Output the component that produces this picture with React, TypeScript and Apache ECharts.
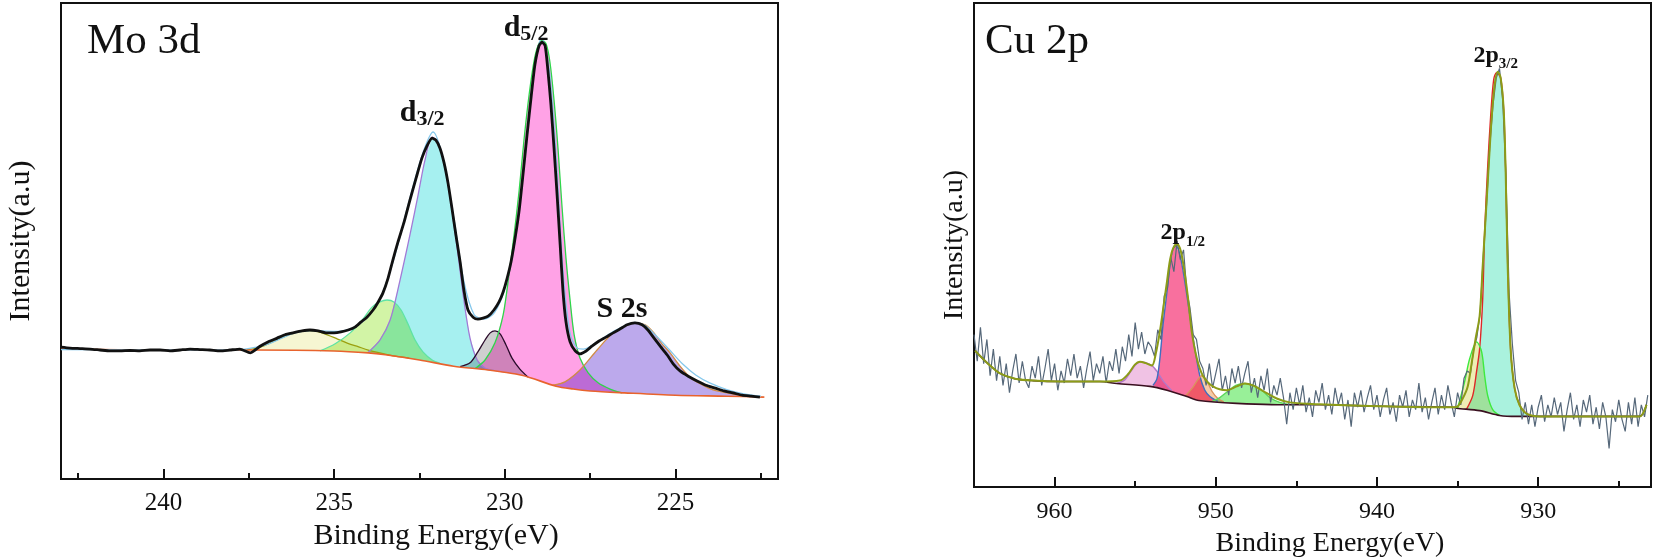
import React, { useEffect, useRef } from 'react';
import * as echarts from 'echarts';

// ---------------- Mo 3d panel (left) ----------------
const MO_X_MIN = 222;
const MO_X_MAX = 243;
const MO_MAJOR_TICKS = [225, 230, 235, 240];
const MO_MINOR_TICKS = [222.5, 227.5, 232.5, 237.5, 242.5];

const MO_RAW = [
  [243.0, 27.7], [242.74, 27.5], [242.44, 27.4], [242.15, 27.3], [241.86, 27.1], [241.56, 26.9], [241.27, 26.9], [240.98, 27.0],
  [240.69, 26.9], [240.39, 27.1], [240.1, 27.1], [239.81, 26.9], [239.51, 27.1], [239.22, 27.3], [238.93, 27.2], [238.64, 27.1],
  [238.34, 26.9], [238.05, 27.1], [237.76, 27.3], [237.46, 26.5], [237.17, 27.9], [236.94, 28.8], [236.67, 29.6], [236.44, 30.3],
  [236.2, 30.7], [235.94, 31.1], [235.71, 31.3], [235.47, 31.1], [235.24, 30.7], [235.0, 30.7], [234.8, 30.9], [234.59, 31.3],
  [234.39, 31.9], [234.21, 33.0], [234.04, 34.0], [233.86, 35.5], [233.71, 37.2], [233.57, 39.1], [233.42, 42.2], [233.28, 46.0],
  [233.13, 49.8], [232.95, 54.0], [232.78, 58.6], [232.6, 63.2], [232.43, 67.4], [232.28, 70.0], [232.13, 71.6], [232.02, 71.2],
  [231.9, 69.5], [231.78, 66.4], [231.66, 62.0], [231.55, 56.9], [231.43, 51.1], [231.31, 45.6], [231.2, 39.7], [231.08, 35.5],
  [230.93, 34.0], [230.79, 33.6], [230.64, 33.8], [230.49, 34.2], [230.32, 35.5], [230.17, 37.2], [230.05, 39.3], [229.94, 42.0],
  [229.82, 45.6], [229.7, 50.6], [229.58, 56.5], [229.47, 63.9], [229.35, 72.3], [229.23, 80.3], [229.12, 87.0], [229.0, 91.0],
  [228.91, 91.8], [228.82, 91.0], [228.74, 85.9], [228.65, 78.6], [228.56, 69.5], [228.47, 59.7], [228.38, 49.2], [228.3, 39.7],
  [228.21, 33.0], [228.09, 28.8], [227.94, 26.9], [227.8, 26.3], [227.62, 26.9], [227.45, 27.9], [227.24, 29.0], [227.04, 29.8],
  [226.83, 30.7], [226.63, 31.5], [226.42, 32.4], [226.19, 32.8], [225.98, 32.4], [225.81, 31.3], [225.63, 29.6], [225.45, 27.9],
  [225.25, 26.1], [225.07, 24.2], [224.87, 22.7], [224.63, 21.6], [224.37, 20.6], [224.11, 19.7], [223.84, 19.1], [223.58, 18.5],
  [223.32, 18.1], [223.05, 17.6], [222.79, 17.4], [222.53, 17.2]
];

const MO_ENVELOPE = [
  [243, 27.2], [240, 27.1], [238, 27.1], [237, 28.2], [236.2, 30.6], [235.7, 31.2], [235.0, 31.0], [234.5, 31.6], [234.0, 34.2],
  [233.6, 38.8], [233.2, 47.5], [232.8, 58.5], [232.4, 68.5], [232.1, 72.9], [231.8, 67.0], [231.5, 55.0], [231.2, 41.5],
  [230.9, 34.5], [230.6, 33.6], [230.3, 35.0], [230.0, 40.0], [229.7, 50.0], [229.4, 68.0], [229.15, 85.5], [228.92, 92.6],
  [228.7, 86.0], [228.5, 68.0], [228.3, 44.0], [228.1, 31.0], [227.9, 27.6], [227.7, 27.3], [227.4, 28.3], [227.0, 30.2],
  [226.6, 31.8], [226.2, 32.9], [225.9, 32.3], [225.6, 30.3], [225.2, 27.3], [224.8, 24.2], [224.4, 21.8], [224.0, 20.2],
  [223.5, 18.8], [223.0, 17.9], [222.5, 17.4]
];

const MO_BACKGROUND = [
  [243.0, 27.3], [240.0, 27.1], [237.5, 27.1], [235.0, 26.9], [234.0, 26.5], [233.5, 26.1], [232.5, 25.0], [231.5, 23.7],
  [230.5, 22.9], [229.5, 21.8], [228.5, 19.5], [228.0, 18.9], [227.5, 18.5], [226.5, 18.1], [225.0, 17.6], [223.5, 17.4], [222.4, 17.2]
];

const MO_PEAK_235_8 = [
  [237.6, 27.1], [237.2, 27.6], [236.9, 28.5], [236.6, 29.5], [236.3, 30.4], [236.0, 31.0], [235.75, 31.2], [235.5, 31.0],
  [235.2, 30.3], [234.9, 29.4], [234.6, 28.5], [234.3, 27.8], [234.0, 27.1], [233.6, 26.4], [233.2, 25.8], [232.8, 25.4]
];

const MO_PEAK_233_5 = [
  [235.41, 26.9], [234.97, 28.4], [234.53, 30.7], [234.18, 33.4], [233.89, 36.1], [233.66, 37.2], [233.45, 37.6], [233.25, 37.2],
  [233.04, 35.5], [232.84, 32.6], [232.63, 29.2], [232.4, 26.7], [232.13, 25.0], [231.9, 24.3]
];

const MO_D32 = [
  [234.01, 26.6], [233.66, 29.2], [233.36, 33.4], [233.07, 41.8], [232.78, 51.3], [232.54, 59.7], [232.34, 67.0], [232.13, 71.8],
  [231.96, 70.8], [231.75, 65.3], [231.55, 56.5], [231.37, 47.1], [231.2, 37.6], [231.02, 29.6], [230.81, 25.0], [230.58, 23.3], [230.32, 22.8]
];

const MO_PEAK_230_3 = [
  [231.31, 23.6], [231.02, 24.4], [230.79, 26.7], [230.58, 29.2], [230.43, 30.7], [230.29, 31.1], [230.14, 30.5], [229.97, 28.2],
  [229.79, 25.4], [229.56, 23.1], [229.32, 21.4]
];

const MO_D52 = [
  [230.87, 23.2], [230.58, 25.0], [230.29, 28.6], [230.05, 34.5], [229.88, 42.9], [229.73, 51.3], [229.58, 60.7], [229.44, 71.2],
  [229.29, 80.7], [229.15, 87.6], [229.03, 91.0], [228.91, 92.2], [228.79, 91.4], [228.68, 87.6], [228.56, 79.6], [228.44, 69.1],
  [228.33, 57.6], [228.21, 46.4], [228.09, 37.6], [227.97, 30.3], [227.8, 25.4], [227.56, 22.3], [227.27, 20.2], [226.92, 18.9], [226.57, 18.1]
];

const MO_S2S = [
  [228.59, 19.7], [228.24, 20.4], [227.8, 22.9], [227.3, 27.1], [226.83, 30.7], [226.48, 32.1], [226.19, 32.8], [225.89, 32.4],
  [225.66, 30.9], [225.4, 28.4], [225.16, 26.5], [224.87, 23.7], [224.58, 21.4], [224.28, 20.0], [223.9, 18.7], [223.49, 18.1],
  [223.11, 17.6], [222.53, 17.2]
];

// ---------------- Cu 2p panel (right) ----------------
const CU_X_MIN = 923;
const CU_X_MAX = 965;
const CU_MAJOR_TICKS = [930, 940, 950, 960];
const CU_MINOR_TICKS = [925, 935, 945, 955];

const CU_RAW_START = 965.0;
const CU_RAW_STEP = 0.2;
const CU_RAW_VALUES = [
  31.5, 26.0, 33.0, 25.5, 30.5, 23.0, 28.5, 22.0, 27.0,
  21.0, 25.5, 19.5, 24.0, 27.5, 21.5, 26.0, 22.0, 20.5, 25.0, 22.5, 27.0, 21.0, 24.5, 28.5, 22.0, 25.5, 20.0, 24.0, 21.5,
  26.5, 23.0, 27.5, 22.5, 25.0, 20.5, 24.5, 28.0, 22.0, 25.5, 23.5, 27.0, 21.5, 26.0, 24.0, 28.5,
  23.5, 29.0, 26.0, 31.5, 27.0, 34.0, 28.5, 32.0, 27.5, 30.0, 29.0,
  27.0, 32.5, 30.5, 39.5, 41.0, 47.5, 44.5, 50.8, 47.0, 49.0, 40.5, 37.0, 31.5, 30.5, 26.0,
  24.5, 21.0, 25.5, 20.5, 23.5, 26.5, 20.0, 23.0, 19.0, 24.5, 21.5, 25.0, 20.5, 23.5, 26.0, 19.5, 22.5, 18.5, 23.0, 20.0,
  24.5, 17.5, 21.0, 19.0, 22.5,
  18.5, 13.0, 19.5, 16.0, 20.5, 17.0, 21.0, 15.5, 18.5, 14.5, 20.0, 17.5, 21.5, 16.0, 19.0, 15.0, 20.5, 17.0, 19.5, 14.0,
  18.0, 12.5, 19.5, 16.5, 20.0, 15.5, 18.5, 21.0, 16.0, 19.0, 14.5, 18.0, 20.5, 15.0, 17.5, 13.5, 19.0, 16.5, 20.0, 14.5,
  18.0, 16.0, 21.5, 15.5, 18.5, 14.0, 17.5, 20.5, 15.0, 19.0, 16.0, 21.0, 17.5,
  14.5, 19.5, 17.0, 22.5, 24.0, 23.5, 28.5, 31.0, 36.0, 48.0, 58.5, 70.5, 79.0, 84.5, 86.5, 80.0, 64.5, 40.0, 29.5, 22.0,
  19.5, 14.0, 17.5, 13.0,
  17.0, 12.5, 16.5, 19.0, 13.5, 17.0, 14.5, 18.5, 15.0, 17.5, 11.5, 16.0, 19.5, 14.0, 17.0, 12.5, 18.0, 15.5, 19.0, 13.0,
  16.5, 12.0, 17.5, 14.5, 8.0, 16.0, 13.5, 18.0, 14.0, 11.5, 17.5, 13.0, 18.5, 12.5, 17.0, 14.5, 19.0
];

const CU_ENVELOPE = [
  [964.94, 28.2], [964.13, 25.5], [963.39, 23.5], [962.46, 22.4], [961.34, 22.0], [959.67, 21.8], [957.19, 21.8], [955.95, 22.0],
  [955.45, 23.3], [955.02, 25.3], [954.71, 25.9], [954.34, 25.6], [953.96, 25.1], [953.72, 27.6], [953.47, 32.1], [953.22, 37.9],
  [953.03, 42.4], [952.85, 46.7], [952.66, 49.2], [952.41, 50.2], [952.23, 49.4], [952.1, 47.7], [951.92, 44.0], [951.73, 39.3],
  [951.49, 32.1], [951.17, 26.5], [950.8, 23.0], [950.18, 20.8], [949.31, 20.0], [948.7, 20.8], [948.2, 21.4], [947.7, 21.0],
  [947.14, 20.0], [946.22, 18.3], [945.41, 17.5], [943.55, 17.1], [939.83, 16.7], [936.73, 16.5], [935.3, 16.5], [934.99, 16.7],
  [934.68, 18.3], [934.37, 20.8], [934.13, 25.5], [933.88, 30.7], [933.63, 35.4], [933.44, 45.7], [933.19, 59.5], [933.01, 69.8],
  [932.88, 76.5], [932.7, 83.1], [932.51, 85.8], [932.33, 84.6], [932.14, 78.0], [932.02, 65.6], [931.89, 45.7], [931.71, 28.6],
  [931.46, 20.4], [931.15, 16.9], [930.72, 15.2], [929.91, 14.6], [926.19, 14.6], [923.71, 14.6], [923.28, 17.0]
];

const CU_BACKGROUND = [
  [964.94, 28.2], [964.13, 25.5], [963.39, 23.5], [962.46, 22.4], [961.34, 22.0], [959.67, 21.8], [957.19, 21.8], [956.13, 21.4],
  [954.09, 20.8], [953.03, 20.0], [951.79, 18.7], [951.05, 17.9], [948.7, 17.3], [945.72, 17.0], [943.55, 17.0], [939.83, 16.7],
  [935.3, 16.5], [935.06, 16.3], [933.63, 15.8], [932.39, 14.8], [931.34, 14.6], [929.91, 14.6], [926.19, 14.6], [923.71, 14.6], [923.28, 17.0]
];

const CU_SAT_954_7 = [
  [956.13, 21.4], [955.63, 22.2], [955.27, 23.9], [954.96, 25.3], [954.71, 25.9], [954.34, 25.7], [953.96, 25.1], [953.65, 23.9],
  [953.28, 22.0], [953.03, 21.0], [952.72, 19.9]
];

const CU_P12 = [
  [953.9, 21.0], [953.65, 22.4], [953.47, 26.5], [953.28, 33.3], [953.03, 40.3], [952.85, 45.7], [952.66, 49.2], [952.48, 49.8],
  [952.23, 48.1], [951.92, 42.4], [951.61, 35.4], [951.3, 28.6], [950.99, 23.0], [950.68, 20.0], [950.37, 18.7], [949.87, 17.7]
];

const CU_SAT_950_9 = [
  [951.9, 18.8], [951.42, 20.6], [951.11, 22.2], [950.87, 23.0], [950.56, 22.0], [950.24, 19.8], [949.87, 18.3], [949.5, 17.6]
];

const CU_SAT_948_2 = [
  [950.24, 17.7], [949.75, 18.5], [949.25, 19.8], [948.76, 21.0], [948.2, 21.4], [947.64, 21.0], [947.15, 20.0], [946.65, 18.5],
  [946.03, 17.5], [945.29, 17.0]
];

const CU_P32 = [
  [934.44, 16.1], [934.06, 18.9], [933.82, 23.9], [933.63, 28.6], [933.44, 38.9], [933.32, 52.7], [933.13, 66.3], [932.95, 76.5],
  [932.76, 84.2], [932.58, 85.6], [932.33, 84.6], [932.14, 78.0], [932.02, 65.6], [931.89, 45.7], [931.71, 28.6], [931.46, 20.4],
  [931.15, 16.9], [930.72, 15.2], [930.22, 14.6]
];

const CU_SHOULDER_933_8 = [
  [935.0, 16.3], [934.56, 21.8], [934.25, 26.5], [933.82, 30.0], [933.51, 28.0], [933.32, 23.0], [933.13, 18.9], [932.82, 16.0], [932.39, 14.8]
];

// peak annotations: anchored on data peaks
const MO_LABEL_ANCHORS = [
  { at: [232.13, 71.8], main: 'd', sub: '3/2', dx: -10, dy: -9 },
  { at: [228.91, 92.2], main: 'd', sub: '5/2', dx: -16, dy: 3 },
  { at: [226.19, 32.8], main: 'S 2s', sub: '', dx: -13, dy: 2 }
];
const CU_LABEL_ANCHORS = [
  { at: [952.48, 49.8], main: '2p', sub: '1/2', dx: 7, dy: 2 },
  { at: [932.51, 85.8], main: '2p', sub: '3/2', dx: -2, dy: -1 }
];

const FONT = 'Liberation Serif, Times New Roman, serif';

const MO_COMPONENTS = [
  { data: MO_PEAK_235_8, fill: '#f6f6d2', line: '#9ba010' },
  { data: MO_PEAK_233_5, fill: '#d2f4a6', line: '#5fe3a5' },
  { data: MO_D32, fill: '#a6f0f0', line: '#a27ad6' },
  { data: MO_PEAK_230_3, fill: '#cfcfcf', line: '#2b0b2b' },
  { data: MO_D52, fill: '#ffa2e6', line: '#2fd64a' },
  { data: MO_S2S, fill: '#bca9ec', line: '#d08b45' }
];

const CU_COMPONENTS = [
  { data: CU_SAT_954_7, fill: '#f0c2e4', line: '#b478c8' },
  { data: CU_P12, fill: '#f8709e', line: '#3f6fc0' },
  { data: CU_SAT_950_9, fill: '#f6cba8', line: '#d9925e' },
  { data: CU_SAT_948_2, fill: '#98f098', line: '#5bd65b' },
  { data: CU_P32, fill: '#aaf2de', line: '#e02626' },
  { data: CU_SHOULDER_933_8, fill: '#eeeeb4', line: '#3eea3e' }
];

function hexToRgb(h: string) {
  const n = parseInt(h.slice(1), 16);
  return `rgb(${(n >> 16) & 255},${(n >> 8) & 255},${n & 255})`;
}

function fillSeries(comps: any[], bg: number[][], xIdx: number, yIdx: number) {
  return {
    type: 'custom',
    xAxisIndex: xIdx,
    yAxisIndex: yIdx,
    silent: true,
    z: 1,
    clip: true,
    data: comps.map((c, i) => [c.data[0][0], c.data[0][1], i]),
    renderItem: (params: any, api: any) => {
      const c = comps[params.dataIndex];
      const hi = c.data[0][0];
      const lo = c.data[c.data.length - 1][0];
      const base = bg.filter((p) => p[0] < hi && p[0] > lo).slice().reverse();
      const pts = c.data.concat(base).map((p: number[]) => api.coord([p[0], p[1]]));
      return {
        type: 'polygon',
        shape: { points: pts },
        style: { fill: c.fill, stroke: null, blend: 'multiply' }
      };
    }
  };
}

function lineSeries(data: number[][], color: string, width: number, xIdx: number, yIdx: number, z: number, smooth: any = 0.3) {
  return {
    type: 'line',
    data,
    xAxisIndex: xIdx,
    yAxisIndex: yIdx,
    showSymbol: false,
    symbol: 'none',
    smooth,
    silent: true,
    z,
    lineStyle: { color, width }
  };
}

function xMain(grid: number, min: number, max: number, ticks: number[], labelSize: number, margin: number, nameSize: number, nameGap: number, shift: number) {
  return {
    gridIndex: grid, type: 'value', min, max, inverse: true, position: 'bottom',
    axisLine: { show: false }, splitLine: { show: false },
    axisTick: { show: true, inside: true, length: 10, customValues: ticks, lineStyle: { color: '#111', width: 2 } },
    axisLabel: { show: true, customValues: ticks, margin, fontSize: labelSize, fontFamily: FONT, color: '#111' },
    name: 'Binding Energy(eV)', nameLocation: 'middle', nameGap,
    nameTextStyle: { fontSize: nameSize, fontFamily: FONT, color: '#111', padding: [0, 0, 0, shift] }
  };
}

function xMinor(grid: number, min: number, max: number, ticks: number[]) {
  return {
    gridIndex: grid, type: 'value', min, max, inverse: true, position: 'bottom',
    axisLine: { show: false }, splitLine: { show: false }, axisLabel: { show: false },
    axisTick: { show: true, inside: true, length: 6, customValues: ticks, lineStyle: { color: '#111', width: 2 } }
  };
}

function yAxisDef(grid: number, nameGap: number, size: number) {
  return {
    gridIndex: grid, type: 'value', min: 0, max: 100,
    axisLine: { show: false }, axisTick: { show: false }, axisLabel: { show: false }, splitLine: { show: false },
    name: 'Intensity(a.u)', nameLocation: 'middle', nameGap,
    nameTextStyle: { fontSize: size, fontFamily: FONT, color: '#111' }
  };
}

export default function App() {
  const ref = useRef<HTMLDivElement>(null);

  useEffect(() => {
    if (!ref.current) return;
    const chart = echarts.init(ref.current, null, { renderer: 'svg' });

    const cuRaw = CU_RAW_VALUES.map((v, i) => [Math.round((CU_RAW_START - i * CU_RAW_STEP) * 100) / 100, v]);

    const series: any[] = [];
    // Mo panel
    series.push(fillSeries(MO_COMPONENTS, MO_BACKGROUND, 0, 0));
    MO_COMPONENTS.forEach((c) => series.push(lineSeries(c.data, c.line, 1.3, 0, 0, 3)));
    series.push(lineSeries(MO_BACKGROUND, '#e8632d', 1.6, 0, 0, 4));
    series.push(lineSeries(MO_ENVELOPE, '#86c8ec', 1.3, 0, 0, 5));
    series.push(lineSeries(MO_RAW, '#111111', 2.8, 0, 0, 6, 0.2));
    // Cu panel
    series.push(fillSeries(CU_COMPONENTS, CU_BACKGROUND, 2, 1));
    CU_COMPONENTS.forEach((c) => series.push(lineSeries(c.data, c.line, 1.4, 2, 1, 3)));
    series.push(lineSeries(CU_BACKGROUND, '#3a1020', 1.6, 2, 1, 4));
    series.push(lineSeries(cuRaw, '#56687a', 1.2, 2, 1, 5, false));
    series.push(lineSeries(CU_ENVELOPE, '#8c9c18', 2, 2, 1, 6));

    const option: any = {
      animation: false,
      backgroundColor: '#ffffff',
      grid: [
        { left: 61, top: 3, width: 717, height: 476, show: true, borderColor: '#111', borderWidth: 2, backgroundColor: 'transparent', containLabel: false },
        { left: 974, top: 3, width: 677, height: 486, show: true, borderColor: '#111', borderWidth: 2, backgroundColor: 'transparent', containLabel: false }
      ],
      xAxis: [
        xMain(0, MO_X_MIN, MO_X_MAX, MO_MAJOR_TICKS, 25, 10, 30, 33, 33),
        xMinor(0, MO_X_MIN, MO_X_MAX, MO_MINOR_TICKS),
        xMain(1, CU_X_MIN, CU_X_MAX, CU_MAJOR_TICKS, 24, 11, 28, 37, 35),
        xMinor(1, CU_X_MIN, CU_X_MAX, CU_MINOR_TICKS)
      ],
      yAxis: [yAxisDef(0, 28, 30), yAxisDef(1, 8, 28)],
      series
    };
    chart.setOption(option);

    const makeLabel = (a: any, finder: any, big: boolean) => {
      const p = chart.convertToPixel(finder, a.at) as number[];
      const mainSize = big ? 30 : 24;
      const subSize = big ? 22 : 15;
      const mainLH = big ? 36 : 34;
      const subLH = big ? 14 : 12;
      return {
        type: 'text',
        x: p[0] + a.dx,
        y: p[1] + a.dy,
        z: 100,
        silent: true,
        style: {
          text: a.sub ? `{m|${a.main}}{s|${a.sub}}` : `{m|${a.main}}`,
          align: 'center',
          verticalAlign: 'bottom',
          rich: {
            m: { fontSize: mainSize, fontWeight: 'bold', fontFamily: FONT, lineHeight: mainLH, fill: '#111' },
            s: { fontSize: subSize, fontWeight: 'bold', fontFamily: FONT, lineHeight: subLH, verticalAlign: 'bottom', fill: '#111' }
          }
        }
      };
    };

    const graphic: any[] = [
      { type: 'text', x: 87, y: 38, silent: true, style: { text: 'Mo 3d', fontSize: 43, fontFamily: FONT, fill: '#111', verticalAlign: 'middle' } },
      { type: 'text', x: 985, y: 38, silent: true, style: { text: 'Cu 2p', fontSize: 43, fontFamily: FONT, fill: '#111', verticalAlign: 'middle' } }
    ];
    MO_LABEL_ANCHORS.forEach((a) => graphic.push(makeLabel(a, { xAxisIndex: 0, yAxisIndex: 0 }, true)));
    CU_LABEL_ANCHORS.forEach((a) => graphic.push(makeLabel(a, { xAxisIndex: 2, yAxisIndex: 1 }, false)));
    chart.setOption({ graphic });

    const fillSet = new Set<string>();
    [...MO_COMPONENTS, ...CU_COMPONENTS].forEach((c) => {
      fillSet.add(c.fill.toLowerCase());
      fillSet.add(hexToRgb(c.fill));
    });
    const applyBlend = () => {
      const root = ref.current;
      if (!root) return;
      root.querySelectorAll('path').forEach((el) => {
        const f = (el.getAttribute('fill') || '').toLowerCase().replace(/\s+/g, '');
        if (fillSet.has(f)) (el as any).style.mixBlendMode = 'multiply';
      });
    };
    chart.on('finished', applyBlend);
    applyBlend();
    const t = setTimeout(applyBlend, 50);

    return () => {
      clearTimeout(t);
      chart.dispose();
    };
  }, []);

  return (
    <div
      ref={ref}
      style={{ position: 'absolute', left: 0, top: 0, width: 1654, height: 560, background: '#fff' }}
    />
  );
}
